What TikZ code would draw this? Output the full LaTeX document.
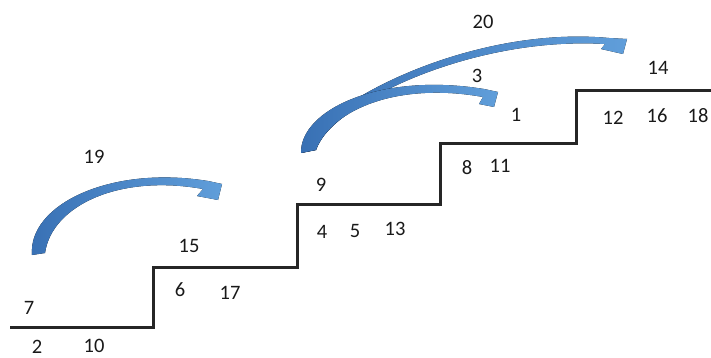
\documentclass[tikz,border=0pt]{standalone}
\usepackage{fontspec}
\setmainfont{Carlito}
\usepackage{tikz}
\definecolor{arrowdark}{RGB}{56,112,180}
\definecolor{arrowlight}{RGB}{96,158,218}
\tikzset{
  num/.style={font=\fontsize{20.5}{24}\selectfont, text=black!90, inner sep=0pt},
  stairline/.style={line width=3pt, black!85},
  bluearrow/.style={left color=arrowdark, right color=arrowlight, draw=none}
}

\begin{document}
\begin{tikzpicture}[x=1pt,y=-1pt]
        \clip (0,0) rectangle (711,358);
        % stairs
        \draw[stairline] (10,327) -- (153,327) -- (153,267) -- (297,267) -- (297,204)
          -- (440,204) -- (440,144) -- (576,144) -- (576,91) -- (715,91);
        % numbers
        \foreach \t/\x/\y in {7/29/308, 2/37/347, 10/94/346, 19/94/157,
            15/189/246, 6/180/290, 17/230/293,
            9/321/185, 4/322/232, 5/355/231, 13/395/229,
            8/467/168, 11/500/166,
            20/483/22, 3/477/76, 1/516/115,
            14/658/68, 12/613/118, 16/657/116, 18/698/116} {
          \node[num] (n\t) at (\x,\y) {\t};
        }
        % curved arrows
        \begin{scope}
          \fill[bluearrow] (32,255) .. controls (28,205) and (110,165) .. (208,181)
            -- (222,184) -- (218,200) -- (197,196) -- (203,189)
            .. controls (120,174) and (52,205) .. (45,253) -- cycle;
          \fill[bluearrow] (301,153) .. controls (315,105) and (470,25) .. (609,38)
            -- (627,39) -- (623,54) -- (601,49) -- (605,44)
            .. controls (470,36) and (330,105) .. (316,150) -- cycle;
          \fill[bluearrow] (301,153) .. controls (300,110) and (380,72) .. (484,89)
            -- (498,92) -- (494,107) -- (479,104) -- (483,97)
            .. controls (400,82) and (332,108) .. (316,150) -- cycle;
        \end{scope}
      \end{tikzpicture}
\end{document}
